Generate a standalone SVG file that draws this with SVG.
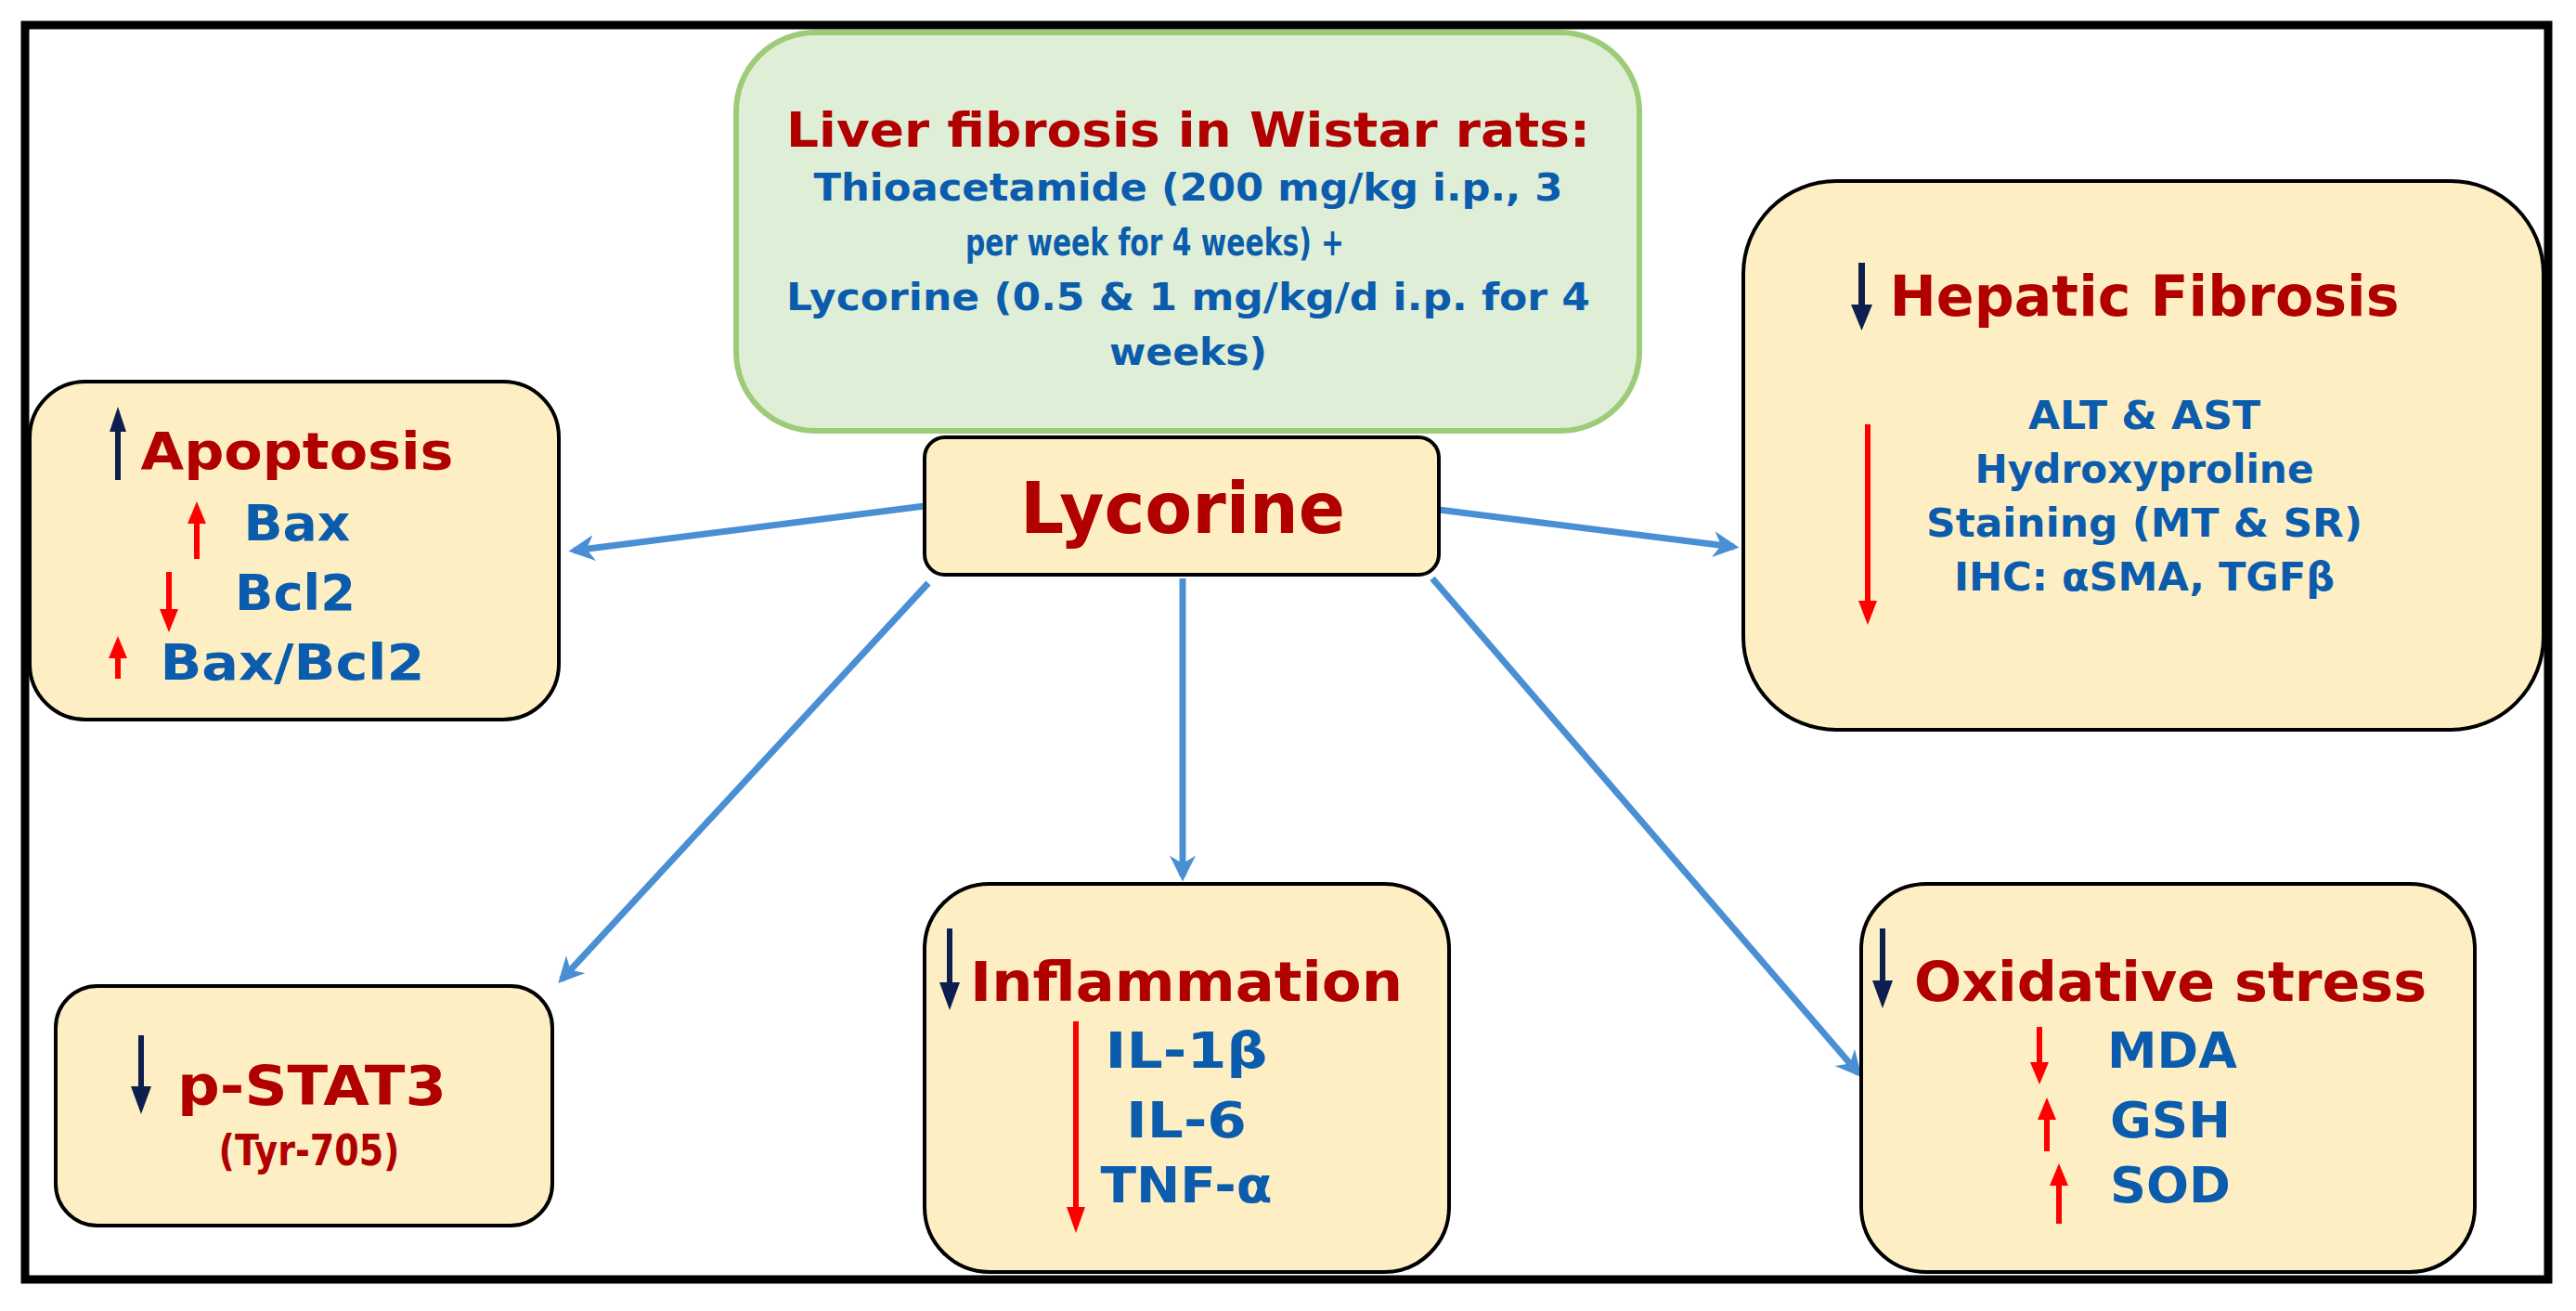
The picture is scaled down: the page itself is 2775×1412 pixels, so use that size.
<svg xmlns="http://www.w3.org/2000/svg" width="2775" height="1412" viewBox="0 0 2775 1412">
<style>
.box{fill:#fdefc3;stroke:#000;stroke-width:4}
.t{font-family:"DejaVu Sans",Verdana,sans-serif;font-weight:bold;text-anchor:middle}
.r{fill:#b00000}
.b{fill:#0b5cad}
.con{stroke:#4a8fd4;stroke-width:7;fill:none;marker-end:url(#ah)}
.nv{fill:#0d1f4f}
.rd{fill:#ff0000}
</style>
<defs>
<marker id="ah" viewBox="0 0 10 10" refX="8" refY="5" markerWidth="4" markerHeight="4" orient="auto" markerUnits="strokeWidth"><path d="M0,0 L10,5 L0,10 L3,5 z" fill="#4a8fd4"/></marker>
</defs>
<rect x="0" y="0" width="2775" height="1412" fill="#fff"/>
<rect x="27" y="27" width="2718" height="1351" fill="none" stroke="#000" stroke-width="9"/>
<g id="connectors">
<line class="con" x1="996" y1="545" x2="618" y2="593"/>
<line class="con" x1="1550" y1="549" x2="1868" y2="589"/>
<line class="con" x1="1000" y1="628" x2="605" y2="1055"/>
<line class="con" x1="1274" y1="623" x2="1274" y2="944"/>
<line class="con" x1="1543" y1="623" x2="2002" y2="1156"/>
</g>
<g id="model">
<rect x="793" y="35" width="973" height="429" rx="85" fill="#dfeed6" stroke="#9dcc78" stroke-width="6"/>
<text class="t r" x="1280" y="158" font-size="52" textLength="866" lengthAdjust="spacingAndGlyphs">Liver fibrosis in Wistar rats:</text>
<text class="t b" x="1280" y="216" font-size="40" textLength="807" lengthAdjust="spacingAndGlyphs">Thioacetamide (200 mg/kg i.p., 3</text>
<text class="t b" x="1244" y="275" font-size="40" textLength="408" lengthAdjust="spacingAndGlyphs">per week for 4 weeks) +</text>
<text class="t b" x="1280" y="334" font-size="40" textLength="866" lengthAdjust="spacingAndGlyphs">Lycorine (0.5 &amp; 1 mg/kg/d i.p. for 4</text>
<text class="t b" x="1280" y="393" font-size="40" textLength="170" lengthAdjust="spacingAndGlyphs">weeks)</text>
</g>
<g id="lycorine">
<rect class="box" x="996" y="471" width="554" height="148" rx="22"/>
<text class="t r" x="1274" y="574" font-size="76" textLength="350" lengthAdjust="spacingAndGlyphs">Lycorine</text>
</g>
<g id="apoptosis">
<rect class="box" x="32" y="411" width="570" height="364" rx="60"/>
<text class="t r" x="320" y="505" font-size="56" textLength="337" lengthAdjust="spacingAndGlyphs">Apoptosis</text>
<text class="t b" x="320" y="582" font-size="54" textLength="115" lengthAdjust="spacingAndGlyphs">Bax</text>
<text class="t b" x="318" y="657" font-size="54" textLength="130" lengthAdjust="spacingAndGlyphs">Bcl2</text>
<text class="t b" x="315" y="732" font-size="54" textLength="285" lengthAdjust="spacingAndGlyphs">Bax/Bcl2</text>
<path class="nv" d="M124,517 h6 v-52 h6 l-9,-27 l-9,27 h6 z"/>
<path class="rd" d="M209,602 h6 v-38 h7 l-10,-24 l-10,24 h7 z"/>
<path class="rd" d="M179,616 h6 v40 h7 l-10,25 l-10,-25 h7 z"/>
<path class="rd" d="M124,731 h6 v-22 h7 l-10,-24 l-10,24 h7 z"/>
</g>
<g id="hepatic">
<rect class="box" x="1878" y="195" width="862" height="591" rx="100"/>
<text class="t r" x="2310" y="340" font-size="60" textLength="549" lengthAdjust="spacingAndGlyphs">Hepatic Fibrosis</text>
<text class="t b" x="2310" y="462" font-size="42" textLength="250" lengthAdjust="spacingAndGlyphs">ALT &amp; AST</text>
<text class="t b" x="2310" y="520" font-size="42" textLength="365" lengthAdjust="spacingAndGlyphs">Hydroxyproline</text>
<text class="t b" x="2310" y="578" font-size="42" textLength="470" lengthAdjust="spacingAndGlyphs">Staining (MT &amp; SR)</text>
<text class="t b" x="2310" y="636" font-size="42" textLength="410" lengthAdjust="spacingAndGlyphs">IHC: αSMA, TGFβ</text>
<path class="nv" d="M2002,283 h7 v45 h8 l-11.5,28 l-11.5,-28 h8 z"/>
<path class="rd" d="M2009,457 h6 v190 h7 l-10,26 l-10,-26 h7 z"/>
</g>
<g id="pstat3">
<rect class="box" x="60" y="1062" width="535" height="258" rx="45"/>
<text class="t r" x="336" y="1190" font-size="58" textLength="290" lengthAdjust="spacingAndGlyphs">p-STAT3</text>
<text class="t r" x="333" y="1255" font-size="46" textLength="195" lengthAdjust="spacingAndGlyphs">(Tyr-705)</text>
<path class="nv" d="M149,1115 h6 v55 h8 l-11,30 l-11,-30 h8 z"/>
</g>
<g id="inflammation">
<rect class="box" x="996" y="952" width="565" height="418" rx="70"/>
<text class="t r" x="1278" y="1078" font-size="58" textLength="466" lengthAdjust="spacingAndGlyphs">Inflammation</text>
<text class="t b" x="1278" y="1150" font-size="54" textLength="175" lengthAdjust="spacingAndGlyphs">IL-1β</text>
<text class="t b" x="1278" y="1225" font-size="54" textLength="130" lengthAdjust="spacingAndGlyphs">IL-6</text>
<text class="t b" x="1278" y="1295" font-size="54" textLength="185" lengthAdjust="spacingAndGlyphs">TNF-α</text>
<path class="nv" d="M1020,1000 h6 v58 h8 l-11,30 l-11,-30 h8 z"/>
<path class="rd" d="M1156,1100 h6 v200 h7 l-10,28 l-10,-28 h7 z"/>
</g>
<g id="oxidative">
<rect class="box" x="2005" y="952" width="661" height="418" rx="70"/>
<text class="t r" x="2338" y="1078" font-size="58" textLength="552" lengthAdjust="spacingAndGlyphs">Oxidative stress</text>
<text class="t b" x="2340" y="1150" font-size="54" textLength="140" lengthAdjust="spacingAndGlyphs">MDA</text>
<text class="t b" x="2338" y="1225" font-size="54" textLength="130" lengthAdjust="spacingAndGlyphs">GSH</text>
<text class="t b" x="2338" y="1295" font-size="54" textLength="130" lengthAdjust="spacingAndGlyphs">SOD</text>
<path class="nv" d="M2025,1000 h6 v56 h8 l-11,30 l-11,-30 h8 z"/>
<path class="rd" d="M2194,1106 h6 v38 h7 l-10,24 l-10,-24 h7 z"/>
<path class="rd" d="M2202,1240 h6 v-34 h7 l-10,-24 l-10,24 h7 z"/>
<path class="rd" d="M2215,1318 h6 v-41 h7 l-10,-24 l-10,24 h7 z"/>
</g>
</svg>
